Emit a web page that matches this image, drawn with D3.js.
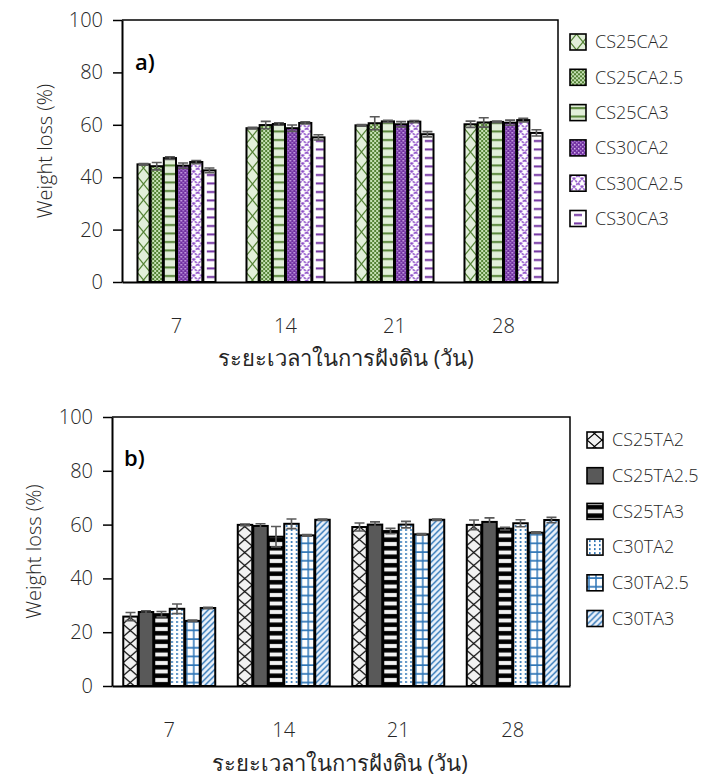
<!DOCTYPE html>
<html>
<head>
<meta charset="utf-8">
<script src="https://cdn.jsdelivr.net/npm/d3@7"></script>
<style>
  body { margin: 0; background: #fff; }
  svg { display: block; font-family: "Open Sans", "Noto Sans", sans-serif; }
  .lbl { fill: #262626; font-weight: 300; }
  .thai { fill: #262626; font-weight: 400; }
</style>
</head>
<body>
<div id="chart"></div>
<script>
const days = ["7", "14", "21", "28"];

// panel a) weight loss of CA samples, one row per series (7, 14, 21, 28 days)
const seriesA = ["CS25CA2", "CS25CA2.5", "CS25CA3", "CS30CA2", "CS30CA2.5", "CS30CA3"];
const valuesA = [
    [44.9, 58.7, 59.8, 60.2],
    [44.2, 59.9, 60.6, 60.9],
    [47.3, 60.3, 61.3, 61.1],
    [44.4, 58.7, 60.2, 60.8],
    [45.8, 60.7, 61.2, 61.8],
    [42.6, 55.2, 56.4, 56.9]
];
const errorsA = [
    [0.3, 0.3, 0.3, 1.2],
    [1.4, 1.4, 2.5, 1.8],
    [0.5, 0.5, 0.4, 0.3],
    [1.0, 1.2, 1.0, 1.0],
    [0.6, 0.4, 0.4, 0.7],
    [0.9, 1.0, 1.0, 1.2]
];

// panel b) weight loss of TA samples
const seriesB = ["CS25TA2", "CS25TA2.5", "CS25TA3", "C30TA2", "C30TA2.5", "C30TA3"];
const valuesB = [
    [25.8, 59.9, 59.1, 59.9],
    [27.5, 59.5, 60.0, 61.0],
    [26.7, 55.5, 57.6, 58.5],
    [28.7, 60.3, 60.0, 60.5],
    [24.2, 56.0, 56.4, 57.0],
    [29.0, 61.8, 61.8, 61.7]
];
const errorsB = [
    [1.5, 0.3, 1.5, 1.8],
    [0.5, 0.8, 1.0, 1.5],
    [1.0, 3.8, 1.0, 0.5],
    [1.8, 1.8, 1.2, 1.3],
    [0.3, 0.3, 0.3, 0.3],
    [0.3, 0.3, 0.3, 1.0]
];

const yTicks = [0, 20, 40, 60, 80, 100];
const xTitle = "ระยะเวลาในการฝังดิน (วัน)";
const yTitle = "Weight loss (%)";

const width = 707, height = 783;

const svg = d3.select('#chart').append('svg')
    .attr("width", width)
    .attr("height", height);

const defs = svg.append("defs");

// helper for the fill patterns (excel style)
function pattern(id, w, h, bg, draw) {
    const p = defs.append("pattern")
        .attr("id", id)
        .attr("patternUnits", "userSpaceOnUse")
        .attr("width", w).attr("height", h);
    p.append("rect").attr("width", w).attr("height", h).attr("fill", bg);
    draw(p);
}

const green = "#548235", lightGreen = "#e2efda";
const purple = "#7030a0";
const blue = "#2e75b6";

pattern("pA1", 13, 16, lightGreen, p => p.append("path")
    .attr("d", "M0,0L13,16M13,0L0,16").attr("stroke", green).attr("stroke-width", 1.2).attr("fill", "none"));
pattern("pA2", 4, 4, "#c5e0b4", p => {
    p.append("rect").attr("width", 2).attr("height", 2).attr("fill", green);
    p.append("rect").attr("x", 2).attr("y", 2).attr("width", 2).attr("height", 2).attr("fill", green);
});
pattern("pA3", 20, 8.5, lightGreen, p => p.append("rect")
    .attr("y", 3).attr("width", 20).attr("height", 2).attr("fill", green));
pattern("pA4", 4, 4, purple, p => {
    p.append("rect").attr("width", 1.5).attr("height", 1.5).attr("fill", "#d9b8f0");
    p.append("rect").attr("x", 2).attr("y", 2).attr("width", 1.5).attr("height", 1.5).attr("fill", "#b58ad8");
});
pattern("pA5", 8, 8, "#fff", p => p.append("path")
    .attr("d", "M0,0L8,8M-4,4L4,12M4,-4L12,4M8,0L0,8").attr("stroke", "#8e4fc8").attr("stroke-width", 1.7)
    .attr("stroke-dasharray", "2.5,1.2").attr("fill", "none"));
pattern("pA6", 20, 8.5, "#fff", p => p.append("rect")
    .attr("x", 4).attr("y", 4).attr("width", 8).attr("height", 2).attr("fill", purple));

pattern("pB1", 15, 13, "#f2f2f2", p => p.append("path")
    .attr("d", "M0,0L15,13M15,0L0,13").attr("stroke", "#000").attr("stroke-width", 1.2).attr("fill", "none"));
pattern("pB2", 10, 10, "#595959", p => {});
pattern("pB3", 20, 8.5, "#f2f2f2", p => p.append("rect")
    .attr("y", 2).attr("width", 20).attr("height", 4.5).attr("fill", "#000"));
pattern("pB4", 5, 4, "#fff", p => p.append("rect")
    .attr("x", 2).attr("y", 1).attr("width", 1.6).attr("height", 2).attr("fill", blue));
pattern("pB5", 7, 8.7, "#fff", p => p.append("path")
    .attr("d", "M2,0V8.7M0,4H7").attr("stroke", blue).attr("stroke-width", 1.5).attr("fill", "none"));
pattern("pB6", 6, 6, "#eaf1fa", p => p.append("path")
    .attr("d", "M-1,1L1,-1M0,6L6,0M5,7L7,5").attr("stroke", "#2e75b6").attr("stroke-width", 1.4).attr("fill", "none"));

const fillsA = ["pA1", "pA2", "pA3", "pA4", "pA5", "pA6"];
const fillsB = ["pB1", "pB2", "pB3", "pB4", "pB5", "pB6"];

drawPanel({
    left: 122, right: 558, top: 20, bottom: 282,
    padding: 0.275, series: seriesA, values: valuesA, errors: errorsA, fills: fillsA,
    tag: "a)", tagX: 135, tagY: 70,
    yTitleX: 45, titleX: 346, titleY: 366,
    legX: 570, legY: 42, legStep: 35.3
});

drawPanel({
    left: 112, right: 570, top: 417, bottom: 686,
    padding: 0.188, series: seriesB, values: valuesB, errors: errorsB, fills: fillsB,
    tag: "b)", tagX: 124, tagY: 466,
    yTitleX: 34, titleX: 340, titleY: 771,
    legX: 587, legY: 440, legStep: 35.7
});

function drawPanel(c) {
    const g = svg.append("g");

    const x = d3.scaleBand().domain(days)
        .range([c.left, c.right])
        .paddingInner(c.padding).paddingOuter(c.padding / 2);
    const xs = d3.scaleBand().domain(c.series.map((d, i) => i)).range([0, x.bandwidth()]);
    const y = d3.scaleLinear().domain([0, 100]).range([c.bottom, c.top]);

    // frame on top and right
    g.append("path")
        .attr("d", `M${c.left},${c.top}H${c.right}V${c.bottom}`)
        .attr("fill", "none").attr("stroke", "#000").attr("stroke-width", 1.5);

    // bars, each in its own group so the pattern starts at the bar edge
    const rows = [];
    c.series.forEach((s, i) => days.forEach((d, j) => rows.push({ s: i, d: d, v: c.values[i][j], e: c.errors[i][j] })));

    const bar = g.selectAll("g.bar")
        .data(rows)
        .enter().append("g")
        .attr("class", "bar")
        .attr("transform", d => "translate(" + (x(d.d) + xs(d.s)) + ",0)");

    bar.append("rect")
        .attr("x", 0.5)
        .attr("width", xs.bandwidth() - 1)
        .attr("y", d => y(d.v))
        .attr("height", d => y(0) - y(d.v))
        .attr("fill", d => "url(#" + c.fills[d.s] + ")")
        .attr("stroke", "#000").attr("stroke-width", 2);

    // error bars
    const cx = xs.bandwidth() / 2;
    bar.append("path")
        .attr("d", d => {
            const y1 = y(d.v + d.e), y2 = y(d.v - d.e);
            return `M${cx - 5},${y1}H${cx + 5}M${cx},${y1}V${y2}M${cx - 5},${y2}H${cx + 5}`;
        })
        .attr("fill", "none").attr("stroke", "#595959").attr("stroke-width", 1.6);

    // axes
    const ya = g.append("g")
        .attr("transform", `translate(${c.left},0)`)
        .call(d3.axisLeft(y).tickValues(yTicks).tickSize(9).tickSizeOuter(0).tickPadding(10));
    ya.selectAll("line").attr("stroke-width", 1.5);
    ya.select(".domain").attr("stroke-width", 2);

    const xa = g.append("g")
        .attr("transform", `translate(0,${y(0)})`)
        .call(d3.axisBottom(x).tickSize(0).tickSizeOuter(0).tickPadding(37));
    xa.select(".domain").attr("stroke-width", 2);

    [ya, xa].forEach(a => a.attr("font-family", null).attr("font-size", 20));
    g.selectAll(".tick text").attr("class", "lbl");

    g.append("text")
        .attr("class", "thai")
        .attr("x", c.titleX)
        .attr("y", c.titleY)
        .attr("text-anchor", "middle")
        .attr("font-size", 22)
        .text(xTitle);

    g.append("text")
        .attr("class", "lbl")
        .attr("transform", `translate(${c.yTitleX},${(c.top + c.bottom) / 2}) rotate(-90)`)
        .attr("dy", "0.35em")
        .attr("text-anchor", "middle")
        .attr("font-size", 20)
        .text(yTitle);

    g.append("text")
        .attr("x", c.tagX).attr("y", c.tagY)
        .attr("font-size", 22).attr("font-weight", 600)
        .attr("fill", "#000")
        .text(c.tag);

    // legend
    const leg = g.selectAll("g.leg")
        .data(c.series)
        .enter().append("g")
        .attr("class", "leg")
        .attr("transform", (d, i) => `translate(${c.legX},${c.legY + i * c.legStep})`);

    leg.append("rect")
        .attr("x", 0).attr("y", -8)
        .attr("width", 16).attr("height", 16)
        .attr("fill", (d, i) => "url(#" + c.fills[i] + ")")
        .attr("stroke", "#000").attr("stroke-width", 1.6);

    leg.append("text")
        .attr("class", "lbl")
        .attr("x", 25).attr("dy", "0.35em")
        .attr("font-size", 18)
        .text(d => d);
}
</script>
</body>
</html>
